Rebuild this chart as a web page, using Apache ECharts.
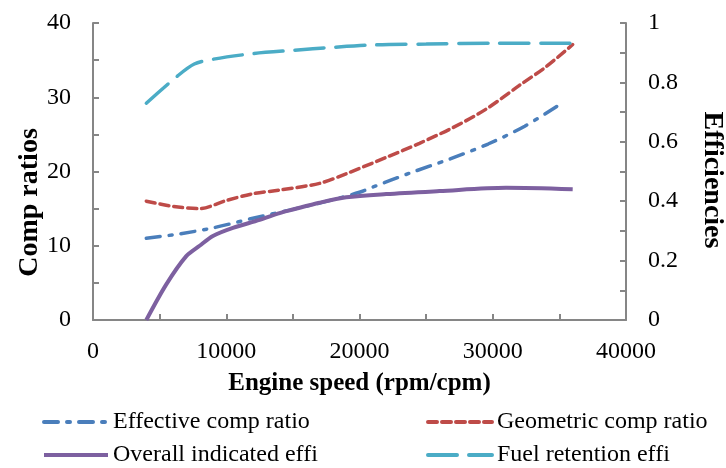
<!DOCTYPE html>
<html>
<head>
<meta charset="utf-8">
<script src="https://cdn.jsdelivr.net/npm/echarts@6/dist/echarts.min.js"></script>
<style>
html,body{margin:0;padding:0;background:#fff;}
#chart{width:726px;height:468px;}
</style>
</head>
<body>
<div id="chart"></div>
<script>
const xTicks = [0, 10000, 20000, 30000, 40000];
const leftTicks = [0, 10, 20, 30, 40];
const rightTicks = [0, 0.2, 0.4, 0.6, 0.8, 1];

const effectiveComp = [[4000,11],[6500,11.6],[9000,12.4],[12000,13.7],[15000,14.9],[18000,16.2],[20000,17.2],[21000,17.9],[23800,19.8],[26800,21.7],[29650,23.7],[32400,26.1],[35100,29.1]];
const geometricComp = [[4000,16],[6000,15.3],[8000,15],[10000,16.1],[12000,17.0],[14000,17.5],[17000,18.4],[19000,19.7],[22000,21.9],[24500,23.8],[27000,25.9],[29500,28.4],[32000,31.6],[34000,34.1],[36000,37.1]];
const overallEffi = [[4000,0],[5500,0.12],[7000,0.215],[8000,0.25],[9000,0.283],[10500,0.31],[12500,0.337],[14000,0.36],[15000,0.372],[17000,0.395],[19000,0.413],[22000,0.424],[26000,0.434],[31000,0.445],[36000,0.44]];
const fuelRetention = [[4000,0.73],[6300,0.82],[7600,0.862],[9000,0.878],[12000,0.897],[15000,0.908],[18000,0.918],[21000,0.926],[25000,0.929],[30000,0.932],[36000,0.932]];

const names = ['Effective comp ratio','Geometric comp ratio','Overall indicated effi','Fuel retention effi'];

const FONT = '"Liberation Serif", "Times New Roman", serif';
const axisColor = '#868686';

const chart = echarts.init(document.getElementById('chart'), null, {renderer:'canvas'});

function axisCommon(){
  return {
    axisLine:{show:true, onZero:false, lineStyle:{color:axisColor, width:2}},
    axisTick:{show:true, inside:true, length:6, lineStyle:{color:axisColor, width:2}},
    minorTick:{show:true, splitNumber:2, length:6, lineStyle:{color:axisColor, width:2}},
    splitLine:{show:false},
    minorSplitLine:{show:false}
  };
}

function legendItem(name, left, top){
  return {
    orient:'horizontal', left:left, top:top, itemWidth:64, itemHeight:2, itemGap:0,
    data:[name], selectedMode:false,
    itemStyle:{opacity:0},
    lineStyle:{width:4},
    textStyle:{fontFamily:FONT, fontSize:24, color:'#000', lineHeight:26}
  };
}

const option = {
  animation:false,
  backgroundColor:'#fff',
  grid:{left:93, right:100, top:23, bottom:148, containLabel:false, outerBoundsMode:'none'},
  legend:[
    legendItem(names[0], 37, 404),
    legendItem(names[2], 37, 437),
    legendItem(names[1], 421, 404),
    legendItem(names[3], 421, 437)
  ],
  xAxis:Object.assign(axisCommon(), {
    type:'value', min:xTicks[0], max:xTicks[xTicks.length-1], interval:xTicks[1]-xTicks[0],
    name:'Engine speed (rpm/cpm)', nameLocation:'middle', nameGap:51, nameMoveOverlap:false,
    nameTextStyle:{fontFamily:FONT, fontSize:25, fontWeight:'bold', color:'#000'},
    axisLabel:{fontFamily:FONT, fontSize:24, color:'#000', margin:20,
      formatter:function(v){return String(v);}}
  }),
  yAxis:[
    Object.assign(axisCommon(), {
      type:'value', position:'left', min:leftTicks[0], max:leftTicks[leftTicks.length-1], interval:leftTicks[1]-leftTicks[0],
      name:'Comp ratios', nameLocation:'middle', nameGap:49, nameRotate:90, nameMoveOverlap:false,
      nameTextStyle:{fontFamily:FONT, fontSize:28, fontWeight:'bold', color:'#000', padding:[0,62,0,0]},
      axisLabel:{fontFamily:FONT, fontSize:24, color:'#000', margin:22,
        formatter:function(v){return String(v);}}
    }),
    Object.assign(axisCommon(), {
      type:'value', position:'right', min:rightTicks[0], max:rightTicks[rightTicks.length-1], interval:0.2,
      name:'Efficiencies', nameLocation:'middle', nameGap:72, nameRotate:-90,
      nameTextStyle:{fontFamily:FONT, fontSize:28, fontWeight:'bold', color:'#000', padding:[0,0,0,17]},
      axisLabel:{fontFamily:FONT, fontSize:24, color:'#000', margin:22,
        formatter:function(v){return String(Math.round(v*10)/10);}}
    })
  ],
  series:[
    {name:names[0], type:'line', yAxisIndex:0, data:effectiveComp, smooth:0.3, symbol:'none',
     lineStyle:{color:'#4A7EBB', width:3.5, type:[14,9,3,9], cap:'round'}, itemStyle:{color:'#4A7EBB'}},
    {name:names[1], type:'line', yAxisIndex:0, data:geometricComp, smooth:0.3, symbol:'none',
     lineStyle:{color:'#BE4B48', width:3.5, type:[9,5], cap:'round'}, itemStyle:{color:'#BE4B48'}},
    {name:names[2], type:'line', yAxisIndex:1, data:overallEffi, smooth:0.3, symbol:'none',
     lineStyle:{color:'#7D60A0', width:4, type:'solid'}, itemStyle:{color:'#7D60A0'}},
    {name:names[3], type:'line', yAxisIndex:1, data:fuelRetention, smooth:0.3, symbol:'none',
     lineStyle:{color:'#4BACC6', width:3.5, type:[29,12], cap:'round'}, itemStyle:{color:'#4BACC6'}}
  ]
};
chart.setOption(option);
</script>
</body>
</html>
